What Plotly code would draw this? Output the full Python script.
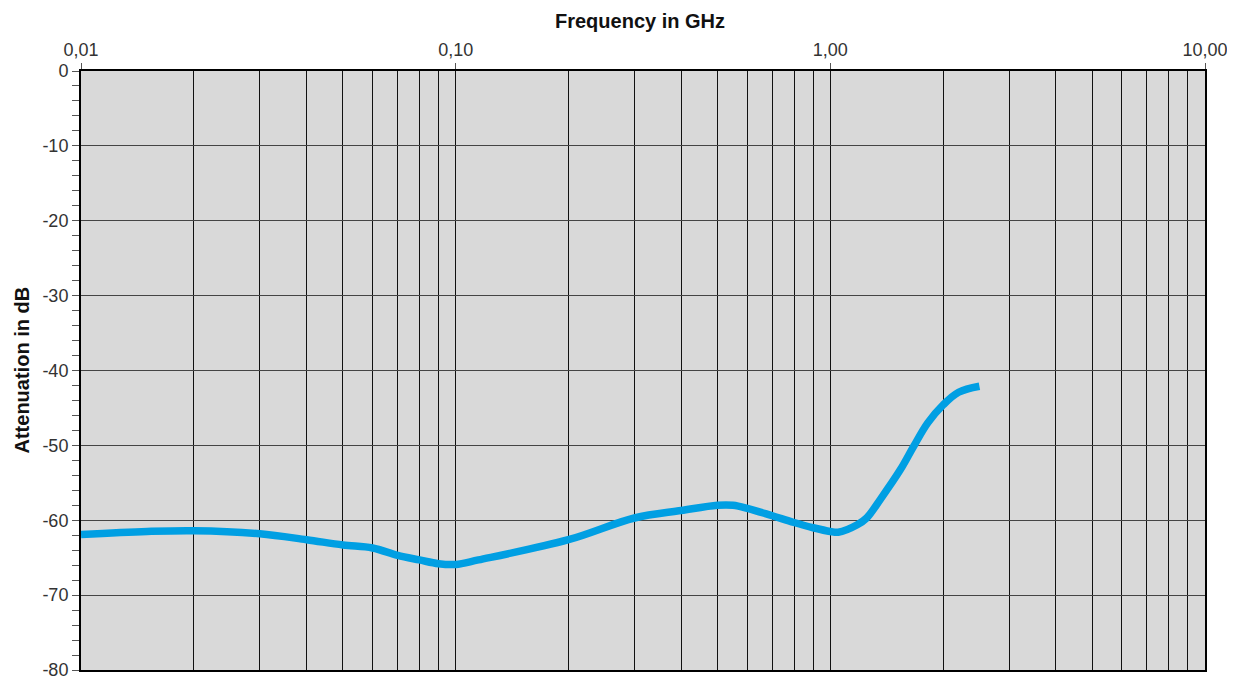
import plotly.graph_objects as go

freq_ghz = [0.01, 0.015, 0.02, 0.03, 0.04, 0.05, 0.06, 0.07, 0.08, 0.09, 0.1, 0.115,
            0.2, 0.3, 0.4, 0.5, 0.55, 0.6, 0.7, 0.8, 0.9, 1.0, 1.05, 1.18, 1.25, 1.36,
            1.54, 1.67, 1.82, 2.0, 2.2, 2.5]
atten_db = [-61.9, -61.5, -61.4, -61.8, -62.6, -63.3, -63.7, -64.7, -65.3, -65.8, -65.9, -65.3,
            -62.6, -59.7, -58.7, -58.0, -58.0, -58.4, -59.4, -60.3, -61.0, -61.5, -61.6, -60.6, -59.7, -57.2,
            -53.2, -50.1, -47.0, -44.6, -42.9, -42.1]

x_major = [0.01, 0.1, 1, 10]
x_major_text = ["0,01", "0,10", "1,00", "10,00"]
x_minor = [m * d for d in [0.01, 0.1, 1] for m in range(2, 10)]
y_major = [0, -10, -20, -30, -40, -50, -60, -70, -80]
y_major_text = ["0", "-10", "-20", "-30", "-40", "-50", "-60", "-70", "-80"]
y_minor = [v for v in range(-80, 1, 2) if v % 10 != 0]

x_title = "Frequency in GHz"
y_title = "Attenuation in dB"

fig = go.Figure()
fig.add_trace(go.Scatter(
    x=freq_ghz, y=atten_db, mode="lines",
    line=dict(color="#009FE3", width=7.5, shape="spline", smoothing=1.0),
    showlegend=False, hoverinfo="skip",
))

# page body has an 8px default margin, so the figure is sized to fill the rest
fig.update_layout(
    width=1227, height=670,
    margin=dict(l=73, r=30, t=63, b=8),
    paper_bgcolor="white",
    plot_bgcolor="#D9D9D9",
    font=dict(family="Liberation Sans", color="#333", size=18),
    annotations=[
        dict(text="<b>" + x_title + "</b>", xref="paper", yref="paper", x=0.4973, y=1,
             xanchor="center", yanchor="middle", yshift=50, showarrow=False,
             font=dict(size=20, color="#111")),
        dict(text="<b>" + y_title + "</b>", xref="paper", yref="paper", x=0, y=0.5,
             xanchor="center", yanchor="middle", xshift=-60, textangle=-90, showarrow=False,
             font=dict(size=20, color="#111")),
    ],
)

fig.update_xaxes(
    type="log", range=[-2, 1], side="top", automargin=False,
    tickmode="array", tickvals=x_major, ticktext=x_major_text,
    ticks="outside", ticklen=6, tickcolor="#555", tickwidth=1,
    ticklabeloverflow="allow",
    showgrid=True, gridcolor="#111", gridwidth=1,
    showline=True, linecolor="black", linewidth=2, mirror=True,
    zeroline=False,
    minor=dict(tickmode="array", tickvals=x_minor, showgrid=True,
               gridcolor="#111", gridwidth=1, ticks=""),
)

fig.update_yaxes(
    range=[-80, 0], automargin=False,
    tickmode="array", tickvals=y_major, ticktext=y_major_text,
    ticks="outside", ticklen=7, tickcolor="#555", tickwidth=1,
    ticklabeloverflow="allow",
    showgrid=True, gridcolor="#444", gridwidth=1,
    showline=True, linecolor="black", linewidth=2, mirror=True,
    zeroline=False,
    minor=dict(tickmode="array", tickvals=y_minor, ticks="outside", ticklen=7,
               tickcolor="#555", tickwidth=1, showgrid=False),
)

fig.write_html("out.html")
